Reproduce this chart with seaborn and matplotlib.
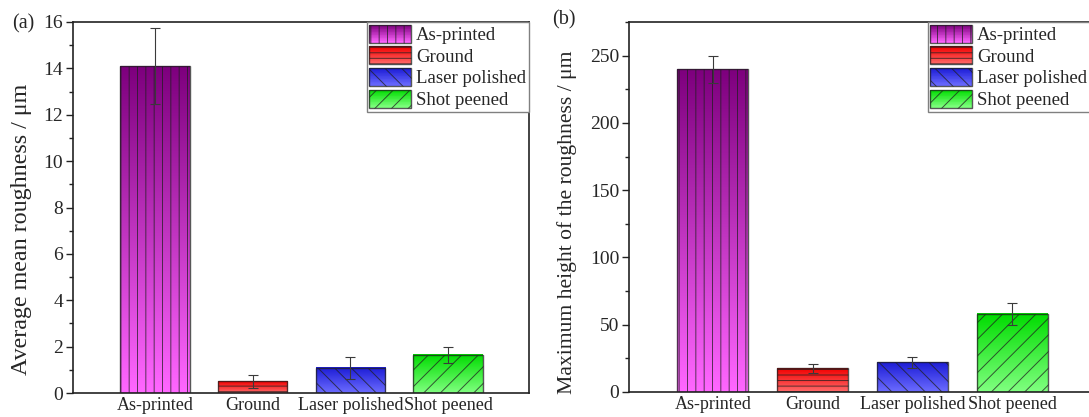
import numpy as np
import pandas as pd
import seaborn as sns
import matplotlib.pyplot as plt
from matplotlib.patches import Patch, Rectangle
from matplotlib.legend_handler import HandlerBase
from matplotlib.ticker import MultipleLocator
from matplotlib.colors import to_rgb

categories = ['As-printed', 'Ground', 'Laser polished', 'Shot peened']
ra_mean = [14.1, 0.5, 1.08, 1.65]
ra_err = [1.65, 0.27, 0.47, 0.35]
rz_mean = [240, 17.5, 22, 58]
rz_err = [10, 3.3, 4, 8.4]

top_colors = ['#7E007E', '#F20000', '#1C1CD6', '#00DC00']
bottom_colors = ['#FF66FF', '#FF6A6A', '#6C6CFF', '#80FF80']
hatches = ['||', '---', '\\\\', '//']
edge = (0.12, 0.12, 0.12, 0.75)

sns.set_style('white')
plt.rcParams['font.family'] = ['Liberation Serif', 'DejaVu Serif']
plt.rcParams['hatch.linewidth'] = 0.7


class GradientHandler(HandlerBase):
    """ legend patch with the same top-to-bottom gradient as the bars """
    def __init__(self, top, bottom, hatch):
        super().__init__()
        self.top, self.bottom, self.hatch = to_rgb(top), to_rgb(bottom), hatch

    def create_artists(self, legend, orig_handle, xdescent, ydescent,
                       width, height, fontsize, trans):
        x0, y0 = -xdescent, -ydescent
        n = 24
        arts = []
        for i, c in enumerate(np.linspace(self.bottom, self.top, n)):
            arts.append(Rectangle((x0, y0 + i * height / n), width, height / n * 1.05,
                                  facecolor=c, edgecolor='none', antialiased=False,
                                  transform=trans))
        arts.append(Rectangle((x0, y0), width, height, facecolor='none', edgecolor=edge,
                              hatch=self.hatch, lw=1, transform=trans))
        return arts


def draw_panel(ax, means, errs, ymax, major, ylabel, xright, label_xy, label_size):
    df = pd.DataFrame({'surface': categories, 'value': means})
    sns.barplot(data=df, x='surface', y='value', hue='surface', palette=top_colors,
                saturation=1, width=0.71, legend=False, ax=ax, zorder=2)
    bars = sorted(ax.patches, key=lambda p: p.get_x())
    for bar, c_top, c_bot, h in zip(bars, top_colors, bottom_colors, hatches):
        x0, w, hgt = bar.get_x(), bar.get_width(), bar.get_height()
        grad = np.linspace(to_rgb(c_bot), to_rgb(c_top), 64).reshape(64, 1, 3)
        ax.imshow(grad, extent=[x0, x0 + w, 0, hgt], origin='lower', aspect='auto',
                  zorder=1.5, interpolation='bilinear')
        bar.set_facecolor('none')
        bar.set_edgecolor(edge)
        bar.set_hatch(h)
        bar.set_linewidth(1)

    ax.errorbar(range(len(categories)), means, yerr=errs, fmt='none', ecolor='#3a3a3a',
                elinewidth=0.8, capsize=3.5, capthick=0.8, zorder=3)

    ax.set_xlim(-0.84, xright)
    ax.set_ylim(0, ymax)
    ax.yaxis.set_major_locator(MultipleLocator(major))
    ax.yaxis.set_minor_locator(MultipleLocator(major / 2))
    ax.tick_params(axis='y', which='major', direction='out', length=5, width=1,
                   labelsize=14, pad=2, color='#222222', left=True)
    ax.tick_params(axis='y', which='minor', direction='out', length=3, width=1,
                   color='#222222', left=True)
    ax.tick_params(axis='x', length=0, labelsize=13, pad=3)
    for s in ax.spines.values():
        s.set_visible(True)
        s.set_color('#222222')
        s.set_linewidth(1.2)
    ax.set_xlabel('')
    ax.set_ylabel(ylabel, fontsize=label_size)
    ax.yaxis.set_label_coords(*label_xy)

    handles = [Patch(label=c) for c in categories]
    hmap = {hd: GradientHandler(t, b, ht)
            for hd, t, b, ht in zip(handles, top_colors, bottom_colors, hatches)}
    leg = ax.legend(handles=handles, handler_map=hmap, loc='upper right', borderaxespad=0,
                    fancybox=False, edgecolor='#808080', framealpha=1, fontsize=13.5,
                    handlelength=2.2, handleheight=1.1, labelspacing=0.12,
                    handletextpad=0.3, borderpad=0.15)
    leg.get_frame().set_linewidth(1)


fig = plt.figure(figsize=(10.89, 4.17), dpi=100)
ax1 = fig.add_axes([73 / 1089, 1 - 393 / 417, 456 / 1089, 371 / 417])
ax2 = fig.add_axes([629 / 1089, 1 - 392 / 417, 461 / 1089, 370 / 417])

draw_panel(ax1, ra_mean, ra_err, 16, 2, 'Average mean roughness / \u03bcm',
           3.83, (-0.09, 0.44), 17.3)
draw_panel(ax2, rz_mean, rz_err, 275, 50, 'Maximum height of the roughness / \u03bcm',
           3.78, (-0.113, 0.46), 15.6)

fig.text(12 / 1089, 1 - 24 / 417, '(a)', fontsize=14.5, va='center')
fig.text(552 / 1089, 1 - 20 / 417, '(b)', fontsize=14.5, va='center')

fig.savefig('out.png', dpi=100)
